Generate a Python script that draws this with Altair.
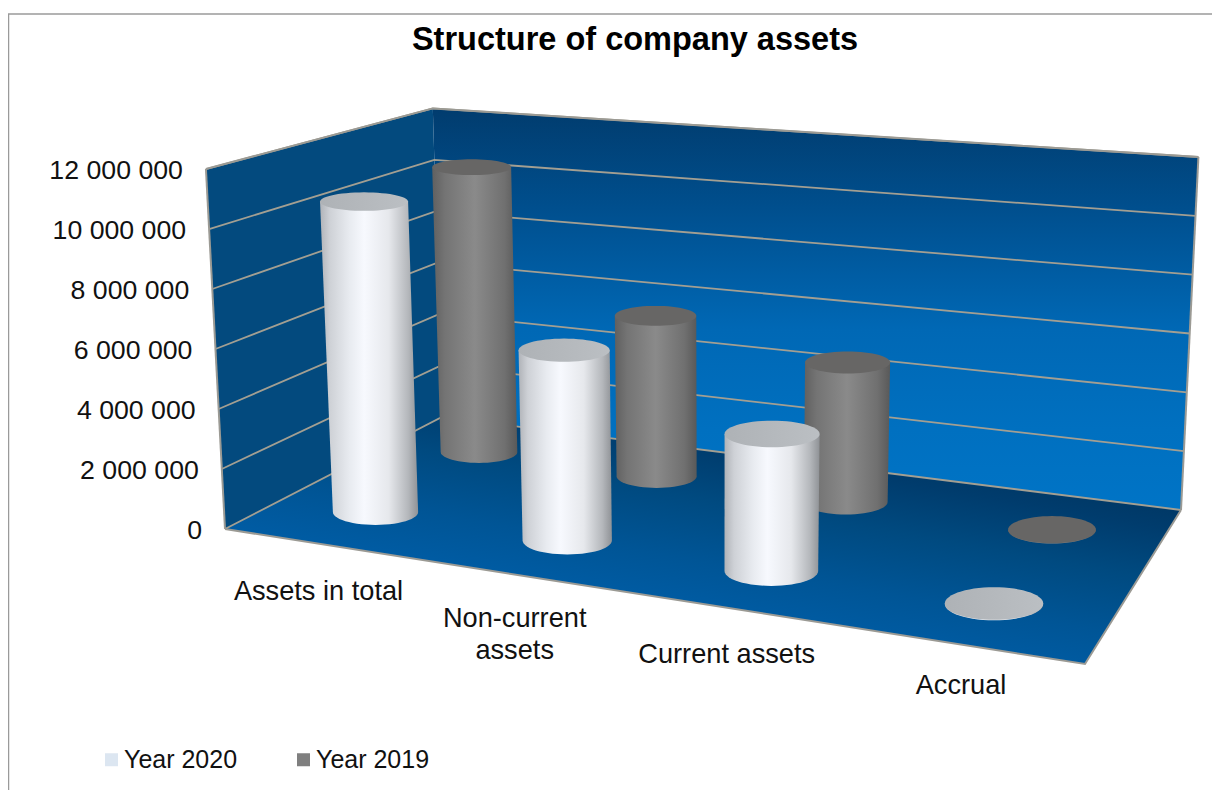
import numpy as np
import pandas as pd
import altair as alt

# ---- chart values -------------------------------------------------------
TITLE = "Structure of company assets"
CATEGORIES = ["Assets in total", "Non-current\nassets", "Current assets", "Accrual"]
SERIES = ["Year 2020", "Year 2019"]
YEAR_2020 = [10570000, 6240000, 4320000, 15000]
YEAR_2019 = [10520000, 5720000, 4800000, 12000]
TICK_VALUES = [0, 2000000, 4000000, 6000000, 8000000, 10000000, 12000000]
TICK_LABELS = ["0", "2 000 000", "4 000 000", "6 000 000", "8 000 000", "10 000 000", "12 000 000"]
AXIS_MAX = 12000000

# ---- 3-D projection of the scene onto the page --------------------------
FONT = "Liberation Sans"
FLOOR_FRONT_LEFT = (225, 529)
FLOOR_BACK_LEFT = (442, 417)
FLOOR_BACK_RIGHT = (1181, 510)
FLOOR_FRONT_RIGHT = (1085, 664)
ROWS = {"Year 2020": ((375.5, 512), (994, 604)), "Year 2019": ((479, 452), (1052, 530))}
SLOTS = [0, 0.31, 0.64, 1]
LABEL_NUDGE = [(0, 1), (-3, -1), (-3, 5), (0, 3)]
FOCUS_X, SPREAD = 720, 1.07e-4


def height_of(x, y, v):
    return v / AXIS_MAX * (115 + 0.00187 * x + 0.4623 * y)


def rise(x, y, v):
    h = height_of(x, y, v)
    return x + (x - FOCUS_X) * SPREAD * h, y - h


def base(cat, series):
    (x0, y0), (x1, y1) = ROWS[series]
    s = SLOTS[cat]
    return x0 + (x1 - x0) * s, y0 + (y1 - y0) * s


def polygon_rows(pts):
    rows = []
    n = len(pts)
    for xv in sorted({p[0] for p in pts}):
        ys = []
        for i in range(n):
            (ax, ay), (bx, by) = pts[i], pts[(i + 1) % n]
            if min(ax, bx) <= xv <= max(ax, bx):
                if ax == bx:
                    ys += [ay, by]
                else:
                    ys.append(ay + (by - ay) * (xv - ax) / (bx - ax))
        rows.append({"x": xv, "y": min(ys), "y2": max(ys)})
    return pd.DataFrame(rows)


def half_width(y):
    return 5.9 + 0.0717 * y


def ratio(y):
    return 0.15 + 0.0003 * y


def cylinder_frames(series, values):
    body, cap = [], []
    for i, v in enumerate(values):
        xb, yb = base(i, series)
        xt, yt = rise(xb, yb, v)
        h = height_of(xb, yb, v)
        hwb = half_width(yb)
        hwt = hwb * (1 + SPREAD * h)
        hhb, hht = hwb * ratio(yb), hwt * ratio(yt)
        key = f"{series}-{i}"
        body.append({"k": key, "y": yt, "x": xt - hwt, "x2": xt + hwt})
        body.append({"k": key, "y": yb, "x": xb - hwb, "x2": xb + hwb})
        for a in np.linspace(0, np.pi / 2, 15)[1:]:
            body.append({"k": key, "y": yb + hhb * np.sin(a),
                         "x": xb - hwb * np.cos(a), "x2": xb + hwb * np.cos(a)})
        for a in np.linspace(-np.pi / 2, np.pi / 2, 31):
            cap.append({"k": key, "y": yt + hht * np.sin(a),
                        "x": xt - hwt * np.cos(a), "x2": xt + hwt * np.cos(a)})
    return pd.DataFrame(body), pd.DataFrame(cap)


# ---- scales: plot coordinates equal page pixels -------------------------
W, H = 1204, 782
XS = alt.Scale(domain=[8, 8 + W], zero=False, nice=False)
YS = alt.Scale(domain=[8 + H, 8], zero=False, nice=False)
X = alt.X("x:Q", scale=XS, axis=None)
Y = alt.Y("y:Q", scale=YS, axis=None)


def grad(stops, x1=0, y1=0, x2=0, y2=1):
    return alt.Gradient(gradient="linear", x1=x1, y1=y1, x2=x2, y2=y2,
                        stops=[alt.GradientStop(offset=o, color=c) for o, c in stops])


def poly_layer(pts, color):
    return alt.Chart(polygon_rows(pts)).mark_area(orient="vertical", color=color, interpolate="linear").encode(
        x=X, y=Y, y2=alt.Y2("y2:Q"))


def line_layer(frame, color, width):
    return alt.Chart(frame).mark_line(color=color, strokeWidth=width, interpolate="linear").encode(
        x=alt.X("x:Q", scale=XS, axis=None, sort=None), y=Y, detail="k:N", order="o:Q")


def cyl_layer(frame, color):
    return alt.Chart(frame).mark_area(orient="horizontal", color=color, interpolate="linear").encode(
        y=alt.Y("y:Q", scale=YS, axis=None, sort=None),
        x=alt.X("x:Q", scale=XS, axis=None), x2=alt.X2("x2:Q"), detail="k:N")


fl, bl, br, fr = FLOOR_FRONT_LEFT, FLOOR_BACK_LEFT, FLOOR_BACK_RIGHT, FLOOR_FRONT_RIGHT
flt, blt, brt = rise(*fl, AXIS_MAX), rise(*bl, AXIS_MAX), rise(*br, AXIS_MAX)

left_wall = poly_layer([fl, bl, blt, flt], "#034a7e")
back_wall = poly_layer([bl, br, brt, blt], grad(
    [(0, "#013c6e"), (0.25, "#004f8e"), (0.55, "#0068b5"), (0.8, "#0070c0"), (1, "#0074c6")]))
floor = poly_layer([fl, bl, br, fr], grad(
    [(0, "#003560"), (0.2, "#003c6d"), (0.45, "#004a80"), (0.75, "#005596"), (1, "#005ca4")],
    x1=0.8, y1=0.156, x2=0.409, y2=0.733))

grid_rows = []
for v in TICK_VALUES:
    for o, p in enumerate((fl, bl, br)):
        x, y = rise(*p, v)
        grid_rows.append({"k": f"g{v}", "o": o, "x": x, "y": y})
grid = line_layer(pd.DataFrame(grid_rows), "#a39f92", 1.8)

edge_rows = []
for k, path in {"front": [fl, fr, br], "left": [fl, flt], "top": [flt, blt, brt], "right": [br, brt]}.items():
    for o, p in enumerate(path):
        edge_rows.append({"k": k, "o": o, "x": p[0], "y": p[1]})
edges = line_layer(pd.DataFrame(edge_rows), "#9b9a94", 2)

frame_rows = pd.DataFrame([
    {"k": "f", "o": 0, "x": 8.5, "y": 8 + H},
    {"k": "f", "o": 1, "x": 8.5, "y": 14},
    {"k": "f", "o": 2, "x": 8 + W, "y": 14},
])
frame = line_layer(frame_rows, "#9a9a9a", 1.5)

b20, c20 = cylinder_frames("Year 2020", YEAR_2020)
b19, c19 = cylinder_frames("Year 2019", YEAR_2019)
WHITE = grad([(0, "#b0b3b8"), (0.1, "#ced1d6"), (0.3, "#e8ebf0"), (0.45, "#f7f9fe"), (0.7, "#e6e8ec"),
              (0.9, "#b4b7bb"), (1, "#8f9296")], x1=0, y1=0, x2=1, y2=0)
GRAY = grad([(0, "#606060"), (0.15, "#747474"), (0.5, "#8a8a8a"), (0.85, "#707070"), (1, "#595959")],
            x1=0, y1=0, x2=1, y2=0)
CAP20 = grad([(0, "#aeb2b6"), (1, "#bbbfc3")], x1=0, y1=0, x2=1, y2=0)

# ---- text ---------------------------------------------------------------
tick_rows = []
for v, t in zip(TICK_VALUES, TICK_LABELS):
    x, y = rise(*fl, v)
    tick_rows.append({"x": x - 23, "y": y + 1.5, "t": t})
ticks = alt.Chart(pd.DataFrame(tick_rows)).mark_text(
    align="right", baseline="middle", font=FONT, fontSize=26.7, color="#111111"
).encode(x=X, y=Y, text="t:N")

cat_rows = []
for i, c in enumerate(CATEGORIES):
    x, y = base(i, "Year 2020")
    nx, ny = LABEL_NUDGE[i]
    cat_rows.append({"x": x - 57 + 24 * SLOTS[i] + nx, "y": y + 66 + ny, "t": c})
cats = alt.Chart(pd.DataFrame(cat_rows)).mark_text(
    align="center", baseline="top", font=FONT, fontSize=27.2, lineBreak="\n", lineHeight=32, color="#111111"
).encode(x=X, y=Y, text="t:N")

legend_src = pd.DataFrame({"s": SERIES, "x": [375.5, 479], "y": [200, 167]})
legend = alt.Chart(legend_src).mark_square(opacity=0).encode(
    x=X, y=Y,
    color=alt.Color("s:N", scale=alt.Scale(domain=SERIES, range=["#dce6f1", "#7f7f7f"]),
                    sort=SERIES,
                    legend=alt.Legend(title=None, orient="none", legendX=91, legendY=739,
                                      direction="horizontal", symbolType="square", symbolSize=169,
                                      symbolOpacity=1, symbolStrokeWidth=0, labelFont=FONT, labelFontSize=25,
                                      labelColor="#111111", labelOffset=0, columnPadding=53)),
)

chart = alt.layer(
    frame, left_wall, back_wall, floor, grid, edges,
    cyl_layer(b19, GRAY), cyl_layer(c19, "#676665"),
    cyl_layer(b20, WHITE), cyl_layer(c20, CAP20),
    ticks, cats, legend,
).properties(
    width=W, height=H, padding=0, background="white",
    autosize=alt.AutoSizeParams(type="none"),
    title=alt.TitleParams(TITLE, font=FONT, fontSize=32.5, fontWeight="bold", color="#000000",
                          anchor="middle", dx=25, dy=52),
).configure_view(stroke=None)

chart.save("out.html", embed_options={"renderer": "svg", "actions": False})
